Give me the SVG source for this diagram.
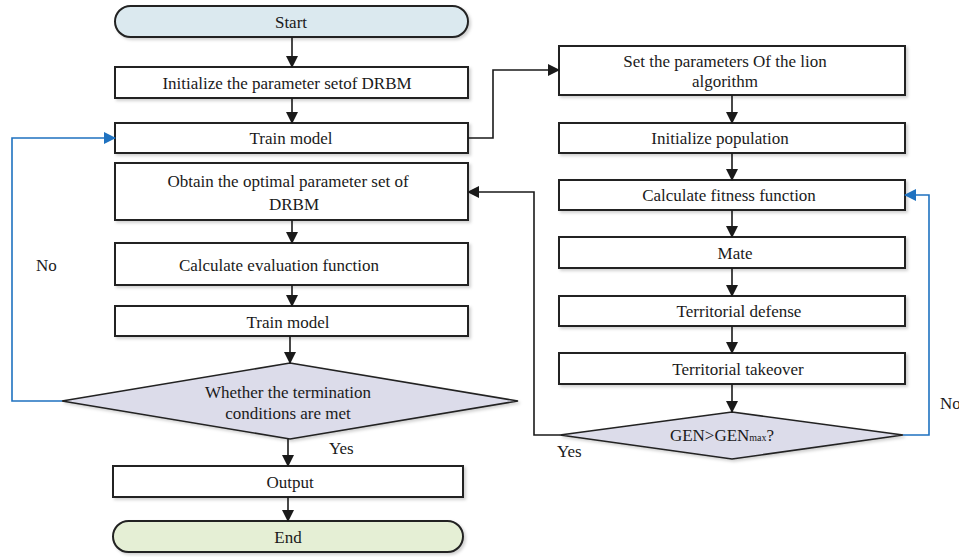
<svg xmlns="http://www.w3.org/2000/svg" width="959" height="557" viewBox="0 0 959 557">
<defs>
<marker id="ah" markerWidth="12" markerHeight="12" refX="11" refY="6" orient="auto" markerUnits="userSpaceOnUse"><path d="M0,0 L12,6 L0,12 Z" fill="#1a1a1a"/></marker>
<marker id="ahb" markerWidth="12" markerHeight="12" refX="11" refY="6" orient="auto" markerUnits="userSpaceOnUse"><path d="M0,0 L12,6 L0,12 Z" fill="#1f72c0"/></marker>
<filter id="sh" x="-10%" y="-20%" width="120%" height="150%"><feDropShadow dx="2" dy="2" stdDeviation="1.5" flood-color="#000" flood-opacity="0.18"/></filter>
</defs>
<style>
.box{fill:#fff;stroke:#222;stroke-width:2;filter:url(#sh)}
.dia{fill:#dcdcea;stroke:#222;stroke-width:1.6;filter:url(#sh)}
.t{font-family:"Liberation Serif","Times New Roman",serif;font-size:17px;fill:#1a1a1a;text-anchor:middle}
.l{font-family:"Liberation Serif","Times New Roman",serif;font-size:17px;fill:#1a1a1a}
.c{fill:none;stroke:#1a1a1a;stroke-width:1.6}
.cb{fill:none;stroke:#1f72c0;stroke-width:1.6}
</style>
<g id="start"><rect x="115" y="6" width="353" height="31" rx="15.5" fill="#dbe9ef" stroke="#222" stroke-width="2" filter="url(#sh)"/><text class="t" x="291" y="28">Start</text></g>
<g id="init"><rect class="box" x="115" y="67" width="353" height="31"/><text class="t" x="287" y="89">Initialize the parameter setof DRBM</text></g>
<g id="train1"><rect class="box" x="115" y="123" width="353" height="30"/><text class="t" x="291" y="144">Train model</text></g>
<g id="obtain"><rect class="box" x="115" y="163" width="353" height="57"/><text class="t" x="288" y="187">Obtain the optimal parameter set of</text><text class="t" x="294" y="210">DRBM</text></g>
<g id="calceval"><rect class="box" x="115" y="243" width="353" height="42"/><text class="t" x="279" y="271">Calculate evaluation function</text></g>
<g id="train2"><rect class="box" x="115" y="306" width="353" height="30"/><text class="t" x="288" y="328">Train model</text></g>
<g id="cond"><polygon class="dia" points="290,363 518,401 290,439 62,401"/><text class="t" x="288" y="398">Whether the termination</text><text class="t" x="288" y="419">conditions are met</text></g>
<g id="output"><rect class="box" x="113" y="466" width="350" height="31"/><text class="t" x="290" y="488">Output</text></g>
<g id="end"><rect x="113" y="521" width="350" height="31" rx="15.5" fill="#e5efd5" stroke="#222" stroke-width="2" filter="url(#sh)"/><text class="t" x="288" y="543">End</text></g>

<g id="setparams"><rect class="box" x="559" y="46" width="346" height="49"/><text class="t" x="725" y="67">Set the parameters Of the lion</text><text class="t" x="725" y="87">algorithm</text></g>
<g id="initpop"><rect class="box" x="559" y="123" width="346" height="30"/><text class="t" x="720" y="144">Initialize population</text></g>
<g id="fitness"><rect class="box" x="559" y="180" width="346" height="30"/><text class="t" x="729" y="201">Calculate fitness function</text></g>
<g id="mate"><rect class="box" x="559" y="237" width="346" height="31"/><text class="t" x="735" y="259">Mate</text></g>
<g id="defense"><rect class="box" x="559" y="296" width="346" height="30"/><text class="t" x="739" y="317">Territorial defense</text></g>
<g id="takeover"><rect class="box" x="559" y="353" width="346" height="31"/><text class="t" x="738" y="375">Territorial takeover</text></g>
<g id="gen"><polygon class="dia" points="732,412 903,435 732,459 560,435"/><text class="t" x="722" y="441">GEN&gt;GEN<tspan font-size="10">max</tspan>?</text></g>

<g id="connectors">
<line class="c" x1="292" y1="37" x2="292" y2="67" marker-end="url(#ah)"/>
<line class="c" x1="292" y1="98" x2="292" y2="123" marker-end="url(#ah)"/>
<line class="c" x1="292" y1="220" x2="292" y2="243" marker-end="url(#ah)"/>
<line class="c" x1="292" y1="285" x2="292" y2="306" marker-end="url(#ah)"/>
<line class="c" x1="290" y1="336" x2="290" y2="363" marker-end="url(#ah)"/>
<line class="c" x1="288" y1="439" x2="288" y2="466" marker-end="url(#ah)"/>
<line class="c" x1="288" y1="497" x2="288" y2="521" marker-end="url(#ah)"/>
<polyline class="cb" points="62,401 12,401 12,138 115,138" marker-end="url(#ahb)"/>
<polyline class="c" points="468,138 493,138 493,70 559,70" marker-end="url(#ah)"/>
<line class="c" x1="732" y1="95" x2="732" y2="123" marker-end="url(#ah)"/>
<line class="c" x1="732" y1="153" x2="732" y2="180" marker-end="url(#ah)"/>
<line class="c" x1="732" y1="210" x2="732" y2="237" marker-end="url(#ah)"/>
<line class="c" x1="732" y1="268" x2="732" y2="296" marker-end="url(#ah)"/>
<line class="c" x1="732" y1="326" x2="732" y2="353" marker-end="url(#ah)"/>
<line class="c" x1="732" y1="384" x2="732" y2="412" marker-end="url(#ah)"/>
<polyline class="c" points="560,435 534,435 534,192 468,192" marker-end="url(#ah)"/>
<polyline class="cb" points="903,435 929,435 929,195 905,195" marker-end="url(#ahb)"/>
</g>
<text class="l" x="36" y="271">No</text>
<text class="l" x="329" y="454">Yes</text>
<text class="l" x="557" y="457">Yes</text>
<text class="l" x="940" y="409">No</text>
</svg>
